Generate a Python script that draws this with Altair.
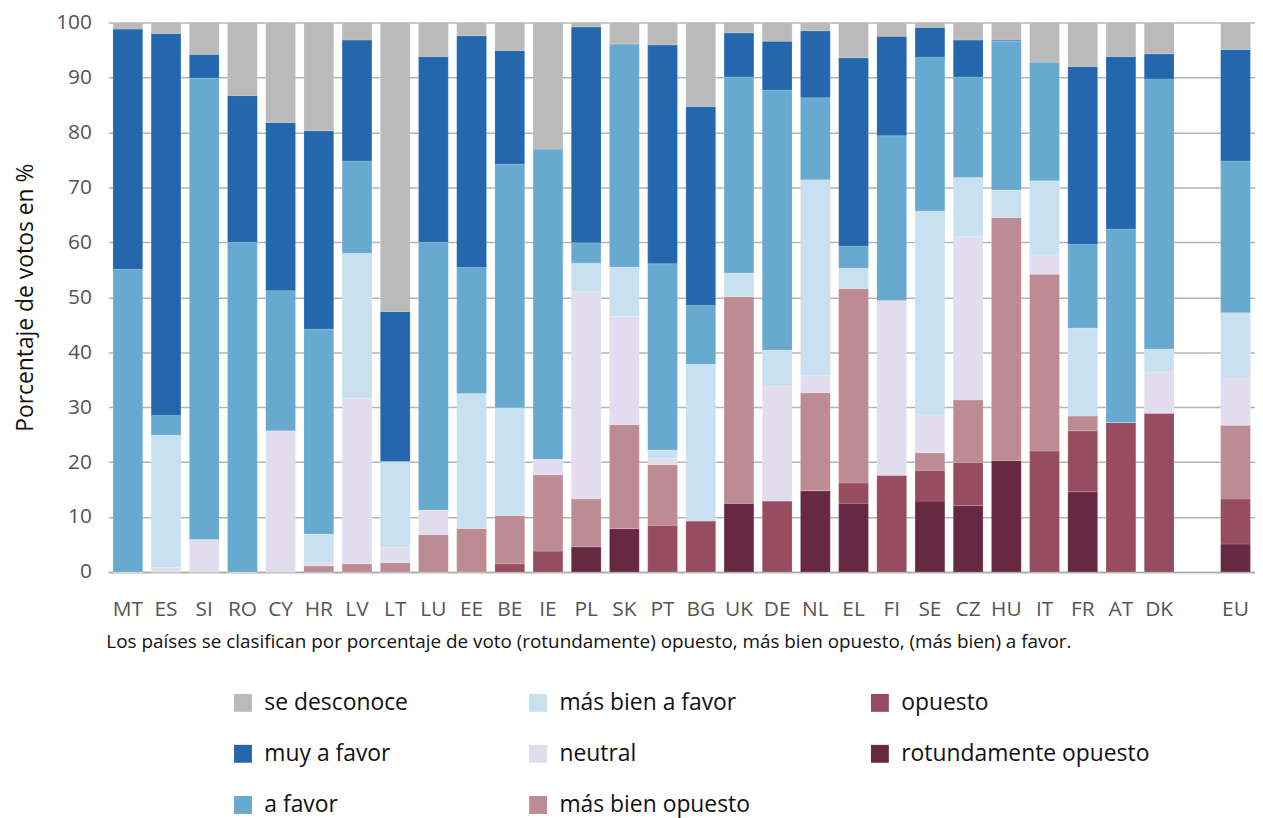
import altair as alt
import pandas as pd

countries = ["MT", "ES", "SI", "RO", "CY", "HR", "LV", "LT", "LU", "EE", "BE", "IE", "PL", "SK",
             "PT", "BG", "UK", "DE", "NL", "EL", "FI", "SE", "CZ", "HU", "IT", "FR", "AT", "DK", "EU"]

# segment values per category (percent), bottom to top in stack
rotundamente_opuesto = [0, 0, 0, 0, 0, 0, 0, 0, 0, 0, 0, 0, 4.6, 7.9,
                        0, 0, 12.5, 0, 14.8, 12.5, 0, 12.9, 12.1, 20.3, 0, 14.6, 0, 0, 5.1]
opuesto = [0, 0, 0, 0, 0, 0, 0, 0, 0, 0, 1.5, 3.8, 0, 0,
           8.5, 9.3, 0, 12.9, 0, 3.7, 17.6, 5.6, 7.8, 0, 22.0, 11.1, 27.2, 28.9, 8.2]
mas_bien_opuesto = [0, 0, 0, 0, 0, 1.1, 1.5, 1.7, 6.8, 7.9, 8.8, 13.9, 8.7, 18.9,
                    11.0, 0, 37.6, 0, 17.8, 35.4, 0, 3.2, 11.4, 44.2, 32.2, 2.7, 0, 0, 13.4]
neutral = [0, 0.8, 5.9, 0, 25.7, 0.6, 30.1, 2.8, 4.5, 0, 0, 2.8, 37.7, 19.7,
           1.2, 0, 0, 20.9, 3.1, 0, 31.8, 6.9, 29.7, 0, 3.5, 0, 0, 7.5, 8.6]
mas_bien_a_favor = [0, 24.1, 0, 0, 0, 5.2, 26.4, 15.6, 0, 24.6, 19.6, 0, 5.2, 9.0,
                    1.5, 28.5, 4.3, 6.6, 35.7, 3.7, 0, 37.1, 10.8, 5.0, 13.5, 16.0, 0, 4.2, 11.9]
a_favor = [55.1, 3.6, 84.0, 60.0, 25.5, 37.3, 16.8, 0, 48.7, 22.9, 44.3, 56.5, 3.7, 40.6,
           33.9, 10.7, 35.7, 47.3, 14.9, 4.0, 30.0, 28.0, 18.3, 27.1, 21.6, 15.2, 35.2, 49.1, 27.6]
muy_a_favor = [43.7, 69.5, 4.3, 26.7, 30.6, 36.1, 22.0, 27.3, 33.8, 42.2, 20.7, 0, 39.3, 0,
               39.8, 36.2, 8.0, 8.9, 12.2, 34.3, 18.1, 5.4, 6.7, 0.2, 0, 32.4, 31.4, 4.6, 20.3]
se_desconoce = [1.2, 2.0, 5.8, 13.3, 18.2, 19.7, 3.2, 52.6, 6.2, 2.4, 5.1, 23.0, 0.8, 3.9,
                4.1, 15.3, 1.9, 3.4, 1.5, 6.4, 2.5, 0.9, 3.2, 3.2, 7.2, 8.0, 6.2, 5.7, 4.9]

series = [
    ("rotundamente opuesto", rotundamente_opuesto, "#662941"),
    ("opuesto", opuesto, "#964c61"),
    ("más bien opuesto", mas_bien_opuesto, "#bc8b93"),
    ("neutral", neutral, "#e1ddee"),
    ("más bien a favor", mas_bien_a_favor, "#c8e0ef"),
    ("a favor", a_favor, "#67a9cf"),
    ("muy a favor", muy_a_favor, "#2467ad"),
    ("se desconoce", se_desconoce, "#bababa"),
]

rows = []
for k, (name, vals, _) in enumerate(series):
    for c, v in zip(countries, vals):
        rows.append({"pais": c, "categoria": name, "valor": v, "k": k})
df = pd.DataFrame(rows)

x_domain = countries[:-1] + ["gap"] + ["EU"]
legend_order = ["se desconoce", "muy a favor", "a favor",
                "más bien a favor", "neutral", "más bien opuesto",
                "opuesto", "rotundamente opuesto"]
color_map = {name: col for name, _, col in series}
legend_colors = [color_map[n] for n in legend_order]

FONT = "Open Sans"

bars = alt.Chart(df).mark_bar(stroke="white", strokeWidth=0.3, strokeOpacity=0.5).encode(
    x=alt.X("pais:N", scale=alt.Scale(domain=x_domain, paddingInner=0.22, paddingOuter=0.12),
            axis=alt.Axis(title=None, labelAngle=0, ticks=False, labelPadding=27,
                          labelExpr="datum.value == 'gap' ? '' : datum.value",
                          labelFontSize=21, labelColor="#555555", labelFont=FONT,
                          domainColor="#aaaaaa", domainWidth=1.5)),
    y=alt.Y("valor:Q", stack="zero",
            scale=alt.Scale(domain=[0, 100], nice=False),
            axis=alt.Axis(title="Porcentaje de votos en %", values=list(range(0, 101, 10)),
                          ticks=False, domain=False, labelPadding=17,
                          labelFontSize=21, labelColor="#555555", labelFont=FONT,
                          titleFontSize=23, titleFont=FONT, titleFontWeight="normal",
                          titleColor="#111111", titlePadding=18,
                          gridColor="#b4b4b4", gridWidth=1.5)),
    color=alt.Color("categoria:N",
                    scale=alt.Scale(domain=legend_order, range=legend_colors),
                    legend=alt.Legend(title=None, orient="none", legendX=124, legendY=673,
                                      columns=3, columnPadding=119, rowPadding=27.5,
                                      symbolType="square", symbolSize=324,
                                      symbolStrokeWidth=0, symbolOpacity=1,
                                      labelFontSize=23, labelFont=FONT, labelColor="#111111",
                                      labelOffset=10, labelLimit=400, gridAlign="each")),
    order=alt.Order("k:Q", sort="ascending"),
)

caption = alt.Chart(pd.DataFrame({"t": ["Los países se clasifican por porcentaje de voto (rotundamente) opuesto, más bien opuesto, (más bien) a favor."]})).mark_text(
    align="left", baseline="middle", fontSize=19, font=FONT, color="#111111"
).encode(text="t:N", x=alt.value(-2), y=alt.value(624))

chart = alt.layer(bars, caption).properties(
    width=1154, height=553,
    autosize=alt.AutoSizeParams(type="none"),
    padding={"left": 101, "top": 12, "right": 0, "bottom": 245},
).configure_view(stroke=None)

chart.save("out.html", embed_options={"renderer": "svg", "actions": False})
